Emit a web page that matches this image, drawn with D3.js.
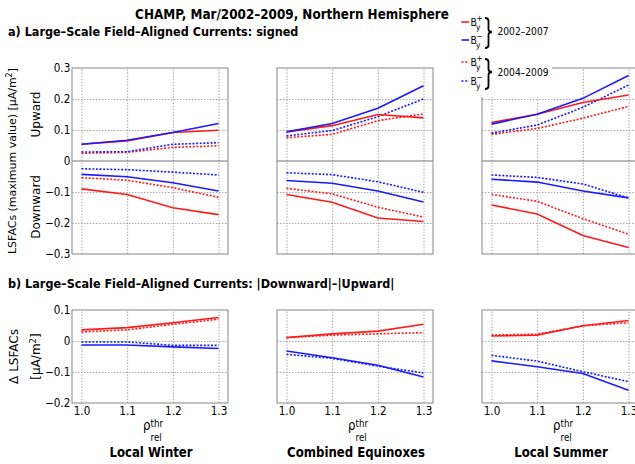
<!DOCTYPE html>
<html>
<head>
<meta charset="utf-8">
<script src="https://cdn.jsdelivr.net/npm/d3@7"></script>
<style>
  html, body { margin: 0; padding: 0; background: #fff; }
  svg { display: block; font-family: "DejaVu Sans", sans-serif; }
</style>
</head>
<body>
<svg id="chart" width="635" height="464"></svg>
<script>
// Relative threshold values (x axis)
const thresholds = [1.0, 1.1, 1.2, 1.3];
const xTickLabels = ["1.0", "1.1", "1.2", "1.3"];
const seasons = ["Local Winter", "Combined Equinoxes", "Local Summer"];

// y ticks
const topTicks = [-0.3, -0.2, -0.1, 0, 0.1, 0.2, 0.3];
const topTickLabels = ["\u22120.3", "\u22120.2", "\u22120.1", "0", "0.1", "0.2", "0.3"];
const bottomTicks = [-0.2, -0.1, 0, 0.1];
const bottomTickLabels = ["\u22120.2", "\u22120.1", "0", "0.1"];

// Upward LSFAC maxima [winter, equinoxes, summer], µA/m²
const upBpos0207 = [[0.054, 0.065, 0.092, 0.099], [0.094, 0.114, 0.150, 0.139], [0.124, 0.151, 0.189, 0.213]];
const upBneg0207 = [[0.054, 0.067, 0.092, 0.121], [0.094, 0.121, 0.170, 0.243], [0.119, 0.151, 0.202, 0.276]];
const upBpos0409 = [[0.025, 0.028, 0.044, 0.049], [0.075, 0.086, 0.130, 0.152], [0.086, 0.105, 0.138, 0.176]];
const upBneg0409 = [[0.029, 0.030, 0.054, 0.059], [0.081, 0.098, 0.143, 0.200], [0.090, 0.116, 0.173, 0.245]];

// Downward LSFAC maxima
const downBpos0207 = [[-0.090, -0.108, -0.151, -0.173], [-0.108, -0.133, -0.184, -0.195], [-0.142, -0.171, -0.240, -0.279]];
const downBneg0207 = [[-0.043, -0.051, -0.070, -0.097], [-0.063, -0.072, -0.097, -0.132], [-0.059, -0.068, -0.097, -0.119]];
const downBpos0409 = [[-0.054, -0.062, -0.086, -0.117], [-0.088, -0.106, -0.149, -0.181], [-0.108, -0.130, -0.186, -0.236]];
const downBneg0409 = [[-0.025, -0.028, -0.036, -0.045], [-0.038, -0.044, -0.067, -0.101], [-0.045, -0.053, -0.074, -0.119]];

// |Downward| - |Upward|
const diffBpos0207 = [[0.036, 0.043, 0.059, 0.076], [0.011, 0.023, 0.032, 0.054], [0.016, 0.019, 0.049, 0.066]];
const diffBneg0207 = [[-0.013, -0.013, -0.019, -0.024], [-0.032, -0.054, -0.078, -0.116], [-0.064, -0.083, -0.105, -0.159]];
const diffBpos0409 = [[0.029, 0.036, 0.054, 0.070], [0.011, 0.019, 0.023, 0.027], [0.019, 0.022, 0.049, 0.059]];
const diffBneg0409 = [[-0.003, -0.003, -0.014, -0.014], [-0.043, -0.056, -0.081, -0.103], [-0.046, -0.065, -0.099, -0.131]];

const RED = "#ff1a1a", BLUE = "#1a1aff";
const SOLID = null, DOTTED = "2,1.6";
const K = 0.87; // horizontal text squeeze

const svg = d3.select("#chart");

function htext(x, y, str, size, opts = {}) {
  const k = opts.k || K;
  return svg.append("text")
    .attr("transform", `translate(${x},${y}) scale(${k},1)`)
    .attr("font-size", size)
    .attr("font-weight", opts.bold ? "bold" : null)
    .attr("text-anchor", opts.anchor || "start")
    .attr("fill", "#000")
    .text(str);
}
function vtext(x, y, str, size, len) {
  const t = svg.append("text")
    .attr("transform", `translate(${x},${y}) rotate(-90)`)
    .attr("font-size", size)
    .attr("text-anchor", "middle")
    .attr("fill", "#000");
  if (len) t.attr("textLength", len).attr("lengthAdjust", "spacingAndGlyphs");
  return t;
}
// squeeze a horizontal heading so that it spans a given width
function fitWidth(sel, width) {
  const w = sel.node().getComputedTextLength();
  return width / w;
}

// Titles
const titleText = "CHAMP, Mar/2002\u20132009, Northern Hemisphere";
const t0 = htext(292, 19, titleText, 13.5, { bold: true, anchor: "middle", k: 1 });
t0.attr("transform", `translate(292,19) scale(${fitWidth(t0, 314)},1)`);
const ta = htext(8, 36, "a) Large\u2013Scale Field\u2013Aligned Currents: signed", 12.5, { bold: true, k: 1 });
const kA = fitWidth(ta, 291);
ta.attr("transform", `translate(8,36) scale(${kA},1)`);
htext(8, 288, "b) Large\u2013Scale Field\u2013Aligned Currents: |Downward|\u2013|Upward|", 12.5, { bold: true, k: kA });

const panelLeft = [72, 277, 482];
const PW = 156;
const TOP = { y0: 68, h: 186, domain: [-0.3, 0.3], grid: [-0.2, -0.1, 0.1, 0.2] };
const BOT = { y0: 310, h: 93, domain: [-0.2, 0.1], grid: [-0.1, 0] };

function drawPanel(left, cfg, series, zeroLine) {
  const x = d3.scaleLinear().domain([1.0, 1.3]).range([left + 9.5, left + 146.5]);
  const y = d3.scaleLinear().domain(cfg.domain).range([cfg.y0 + cfg.h, cfg.y0]);
  const g = svg.append("g");

  // vertical grid
  const vg = g.append("g").attr("transform", `translate(0,${cfg.y0 + cfg.h})`)
    .call(d3.axisBottom(x).tickValues(thresholds).tickSize(-cfg.h).tickFormat(""));
  // horizontal grid
  const hg = g.append("g").attr("transform", `translate(${left},0)`)
    .call(d3.axisLeft(y).tickValues(cfg.grid).tickSize(-PW).tickFormat(""));
  [vg, hg].forEach(a => {
    a.select(".domain").remove();
    a.selectAll("line").attr("stroke", "#a8a8a8").attr("stroke-width", 1)
      .attr("stroke-dasharray", "1.5,1.5");
  });

  if (zeroLine) {
    g.append("line").attr("x1", left).attr("x2", left + PW)
      .attr("y1", y(0)).attr("y2", y(0))
      .attr("stroke", "#777").attr("stroke-width", 1.2);
  }

  const line = d3.line().x((d, i) => x(thresholds[i])).y(d => y(d));
  series.forEach(s => {
    g.append("path").datum(s.values)
      .attr("d", line)
      .attr("fill", "none")
      .attr("stroke", s.color)
      .attr("stroke-width", 1.6)
      .attr("stroke-dasharray", s.dash);
  });

  // frame
  g.append("rect").attr("x", left).attr("y", cfg.y0).attr("width", PW).attr("height", cfg.h)
    .attr("fill", "none").attr("stroke", "#858585").attr("stroke-width", 1);
  return { x, y };
}

seasons.forEach((season, s) => {
  const left = panelLeft[s];
  const top = drawPanel(left, TOP, [
    { values: upBpos0409[s], color: RED, dash: DOTTED },
    { values: upBneg0409[s], color: BLUE, dash: DOTTED },
    { values: downBpos0409[s], color: RED, dash: DOTTED },
    { values: downBneg0409[s], color: BLUE, dash: DOTTED },
    { values: upBpos0207[s], color: RED, dash: SOLID },
    { values: upBneg0207[s], color: BLUE, dash: SOLID },
    { values: downBpos0207[s], color: RED, dash: SOLID },
    { values: downBneg0207[s], color: BLUE, dash: SOLID }
  ], true);
  const bot = drawPanel(left, BOT, [
    { values: diffBpos0409[s], color: RED, dash: DOTTED },
    { values: diffBneg0409[s], color: BLUE, dash: DOTTED },
    { values: diffBpos0207[s], color: RED, dash: SOLID },
    { values: diffBneg0207[s], color: BLUE, dash: SOLID }
  ], false);

  // x tick labels
  const xa = svg.append("g").attr("transform", `translate(0,${BOT.y0 + BOT.h})`)
    .call(d3.axisBottom(bot.x).tickValues(thresholds).tickSize(0).tickPadding(3)
      .tickFormat((d, i) => xTickLabels[i]));
  xa.select(".domain").remove();
  xa.selectAll("text").attr("font-size", 12).attr("font-family", "DejaVu Sans")
    .attr("fill", "#000").attr("transform", `scale(${K},1)`);

  // x axis label: rho_rel^thr
  const cx = (bot.x(1.0) + bot.x(1.3)) / 2;
  htext(cx - 7, 430, "\u03c1", 13.5);
  htext(cx + 0.5, 426.5, "thr", 10);
  htext(cx + 0.5, 440.5, "rel", 10);

  // season title
  htext(cx + 1, 457, season, 13.5, { bold: true, anchor: "middle" });

  if (s === 0) {
    [[top.y, topTicks, topTickLabels], [bot.y, bottomTicks, bottomTickLabels]].forEach(([ys, tv, tl]) => {
      const ya = svg.append("g").attr("transform", `translate(${left},0)`)
        .call(d3.axisLeft(ys).tickValues(tv).tickSize(0).tickPadding(2)
          .tickFormat((d, i) => tl[i]));
      ya.select(".domain").remove();
      ya.selectAll("text").attr("font-size", 12).attr("font-family", "DejaVu Sans")
        .attr("fill", "#000").attr("transform", `scale(${K},1)`);
    });
  }
});

// y axis labels
const yl = vtext(15.5, 161, "", 11, 186);
yl.append("tspan").text("LSFACs (maximum value) [\u03bcA/m");
yl.append("tspan").attr("dy", -4).attr("font-size", 8).text("2");
yl.append("tspan").attr("dy", 4).text("]");
vtext(40, 114.5, "", 12).text("Upward");
vtext(40, 207, "", 12).text("Downward");
vtext(18, 356.5, "", 12).text("\u0394 LSFACs");
const yl2 = vtext(40, 356.5, "", 12);
yl2.append("tspan").text("[\u03bcA/m");
yl2.append("tspan").attr("dy", -4).attr("font-size", 8.5).text("2");
yl2.append("tspan").attr("dy", 4).text("]");

// Legend (white box over the corner of the last panel)
svg.append("rect").attr("x", 452).attr("y", 0).attr("width", 100).attr("height", 97).attr("fill", "#fff");
const legendRows = [
  { y: 22, color: RED, dash: SOLID, sign: "+" },
  { y: 40, color: BLUE, dash: SOLID, sign: "\u2212" },
  { y: 62, color: RED, dash: DOTTED, sign: "+" },
  { y: 81, color: BLUE, dash: DOTTED, sign: "\u2212" }
];
legendRows.forEach(r => {
  svg.append("line").attr("x1", 461.5).attr("x2", 469).attr("y1", r.y).attr("y2", r.y)
    .attr("stroke", r.color).attr("stroke-width", 1.6).attr("stroke-dasharray", r.dash);
  htext(470.5, r.y + 4.3, "B", 10.5);
  htext(476, r.y + 8.2, "y", 8.5);
  htext(476.5, r.y - 1.2, r.sign, 8.5);
});
function brace(x, y1, y2, ym, w) {
  const m = x + w / 2, r = 3;
  return `M${x},${y1} Q${m},${y1} ${m},${y1 + r} L${m},${ym - r} Q${m},${ym} ${x + w},${ym}` +
         ` Q${m},${ym} ${m},${ym + r} L${m},${y2 - r} Q${m},${y2} ${x},${y2}`;
}
svg.append("path").attr("d", brace(485, 18, 48, 32, 7)).attr("fill", "none")
  .attr("stroke", "#000").attr("stroke-width", 1.8);
svg.append("path").attr("d", brace(485, 59, 89, 72, 7)).attr("fill", "none")
  .attr("stroke", "#000").attr("stroke-width", 1.8);
htext(497.5, 34.5, "2002\u20132007", 10.5);
htext(497.5, 75.5, "2004\u20132009", 10.5);
</script>
</body>
</html>
